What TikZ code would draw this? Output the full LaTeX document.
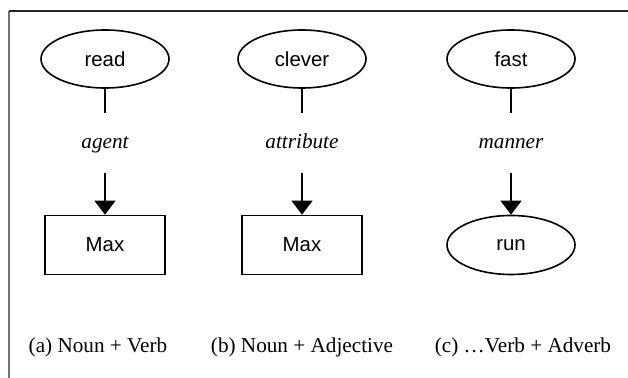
\documentclass[tikz,border=0pt]{standalone}
\usepackage{fontspec}
\setmainfont{Liberation Serif}
\setsansfont{Liberation Sans}
\usepackage{tikz}
\usetikzlibrary{shapes.geometric,arrows.meta,positioning}

\begin{document}
\begin{tikzpicture}[node distance=51pt,
    entity/.style={draw, ellipse, line width=0.8pt, minimum width=64pt, minimum height=29pt, font=\sffamily\fontsize{10.2}{12}\selectfont},
    objbox/.style={draw, rectangle, line width=0.8pt, minimum width=60pt, minimum height=29.5pt, font=\sffamily\fontsize{10.2}{12}\selectfont},
    rolename/.style={minimum height=30pt, text height=1.6ex, text depth=.3ex, font=\itshape\fontsize{10.6}{12}\selectfont},
    subcap/.style={font=\fontsize{10.6}{12}\selectfont},
    rolearrow/.style={line width=0.6pt, -{Triangle[width=10.5pt,length=7pt]}}]
    \useasboundingbox (0,0) rectangle (314pt,-189pt);
    % frame
    \draw[black!55, line width=1pt] (4.5pt,-189pt) -- (4.5pt,-5.5pt);
    \draw[black!85, line width=0.7pt] (4.5pt,-5.5pt) -- (314pt,-5.5pt);

    \node (read) [entity] at (52.5pt,-29.5pt) {read};
    \node (clever) [entity] at (151pt,-29.5pt) {clever};
    \node (fast) [entity] at (255.5pt,-29.5pt) {fast};

    \node (agent) [rolename, below of=read, yshift=9pt] {agent};
    \node (attr) [rolename, below of=clever, yshift=9pt] {attribute};
    \node (manner) [rolename, below of=fast, yshift=9pt] {manner};

    \node (maxa) [objbox, below of=agent] {Max};
    \node (maxb) [objbox, below of=attr] {Max};
    \node (run) [entity, below of=manner, minimum height=29.5pt] {run};

    \node (capa) [subcap, below of=maxa, xshift=-3.5pt] {(a) Noun + Verb};
    \node (capb) [subcap, below of=maxb] {(b) Noun + Adjective};
    \node (capc) [subcap, below of=run, xshift=6pt] {(c) \ldots Verb + Adverb};

    \draw[line width=0.6pt] (read) -- (agent);
    \draw[line width=0.6pt] (clever) -- (attr);
    \draw[line width=0.6pt] (fast) -- (manner);

    \draw[rolearrow] (agent) -- (maxa);
    \draw[rolearrow] (attr) -- (maxb);
    \draw[rolearrow] (manner) -- (run);
\end{tikzpicture}
\end{document}
